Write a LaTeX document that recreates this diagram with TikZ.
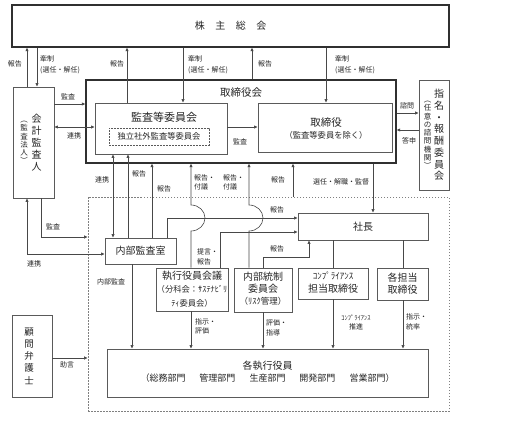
\documentclass[tikz,border=0pt]{standalone}
\usepackage{fontspec}
\setmainfont{Noto Sans CJK JP}
\usetikzlibrary{arrows.meta}
\definecolor{linec}{HTML}{484848}
\definecolor{boxc}{HTML}{5A5A5A}
\definecolor{darkc}{HTML}{303030}
\definecolor{textc}{HTML}{262626}
\definecolor{dashc}{HTML}{808080}
\begin{document}
\begin{tikzpicture}[x=1pt,y=-1pt,
  line/.style={draw=linec, line width=0.6pt},
  arr/.style={line, -{Latex[length=3.6pt,width=3.4pt]}},
  darr/.style={line, {Latex[length=3.6pt,width=3.4pt]}-{Latex[length=3.6pt,width=3.4pt]}},
  box/.style={draw=boxc, line width=0.7pt, inner sep=0pt, align=center, text=textc},
  bigbox/.style={draw=darkc, line width=1.2pt, inner sep=0pt, text=textc},
  txt/.style={inner sep=0pt, align=center, text=textc},
  lbl/.style={font=\fontsize{7}{9.5}\selectfont, text=textc, inner sep=0pt, align=left},
]
\useasboundingbox[fill=white] (0,0) rectangle (513,420);

% execution area
\node[draw=dashc, line width=0.6pt, dash pattern=on 1.5pt off 1.5pt, minimum width=361pt, minimum height=214pt, inner sep=0pt] (exec) at (268.5,304) {};

% shareholders meeting
\node[bigbox, minimum width=437pt, minimum height=42pt, font=\fontsize{10}{12}\selectfont] (sokai) at (230.5,26) {株\hspace{10.5pt}主\hspace{10.5pt}総\hspace{10.5pt}会};

% accounting auditor
\node[box, minimum width=41pt, minimum height=111pt] (kaikei) at (33.5,142.5)
 {\parbox[c]{8pt}{\centering\fontsize{7.5}{8.3}\selectfont ︵\\監\\査\\法\\人\\︶}\hspace{3pt}\parbox[c]{11pt}{\centering\fontsize{10}{12}\selectfont 会\\計\\監\\査\\人}\hspace{5pt}};

% board
\node[bigbox, minimum width=310pt, minimum height=83pt] (board) at (241,121.5) {};
\node[txt, font=\fontsize{10.5}{12}\selectfont] (boardT) at (241,93) {取締役会};

\node[box, minimum width=132pt, minimum height=51pt] (kansaiin) at (161,128.5) {};
\node[txt, font=\fontsize{11}{13}\selectfont] (kansaiinT) at (164,117) {監査等委員会};
\node[box, dash pattern=on 1.8pt off 1.2pt, minimum width=100pt, minimum height=17pt, font=\fontsize{8.3}{10}\selectfont] (dokuritsu) at (159,136.5) {独立社外監査等委員会};

\node[box, minimum width=134pt, minimum height=49pt] (torishimari) at (325,127.5) {};
\node[txt, font=\fontsize{8.3}{12}\selectfont] (torishimariT) at (326,128) {{\fontsize{10.5}{12}\selectfont 取締役}\\（監査等委員を除く）};

% nomination committee
\node[box, minimum width=30pt, minimum height=110pt] (shimei) at (434,135)
 {\parbox[c]{8pt}{\centering\fontsize{7.5}{8.25}\selectfont ︵\\任\\意\\の\\諮\\問\\機\\関\\︶}\hspace{2pt}\parbox[c]{11pt}{\centering\fontsize{10}{11.7}\selectfont 指\\名\\・\\報\\酬\\委\\員\\会}};

% lawyer
\node[box, minimum width=40pt, minimum height=82pt] (komon) at (32,356)
 {\parbox[c]{11pt}{\centering\fontsize{9.5}{12.25}\selectfont 顧\\問\\弁\\護\\士}\hspace{6pt}};

% execution side
\node[box, minimum width=71pt, minimum height=26pt, font=\fontsize{10}{12}\selectfont] (naibu) at (140.5,251) {内部監査室};
\node[box, minimum width=130pt, minimum height=27pt, font=\fontsize{10}{12}\selectfont] (shacho) at (363,226.5) {社長};
\node[box, minimum width=72pt, minimum height=43pt] (shikko) at (192,289.5) {};
\node[txt, font=\fontsize{8.3}{13.5}\selectfont] (shikkoT) at (192,289) {{\fontsize{10}{13.5}\selectfont 執行役員会議}\\（分科会：ｻｽﾃﾅﾋﾞﾘ\\ﾃｨ委員会）};
\node[box, minimum width=58pt, minimum height=44pt] (naibutosei) at (263,290) {};
\node[txt, font=\fontsize{8.5}{12}\selectfont] (naibutoseiT) at (263,289) {{\fontsize{10}{12}\selectfont 内部統制}\\{\fontsize{10}{12}\selectfont 委員会}\\（ﾘｽｸ管理）};
\node[box, minimum width=70pt, minimum height=31pt] (compliance) at (333,283.5) {};
\node[txt, font=\fontsize{9}{13}\selectfont] (complianceT) at (333,283) {ｺﾝﾌﾟﾗｲｱﾝｽ\\{\fontsize{10}{13}\selectfont 担当取締役}};
\node[box, minimum width=51pt, minimum height=32pt, font=\fontsize{10}{12}\selectfont] (kakutanto) at (402.5,284) {各担当\\取締役};
\node[box, minimum width=321pt, minimum height=48pt] (kakushikko) at (267.5,373) {};
\node[txt, font=\fontsize{9}{12}\selectfont] (kakushikkoT) at (267.5,372) {{\fontsize{10}{12}\selectfont 各執行役員}\\（総務部門\hspace{14pt}管理部門\hspace{14pt}生産部門\hspace{14pt}開発部門\hspace{14pt}営業部門）};

% ---------- connectors ----------
\draw[arr] (27,0 |- kaikei.north) -- (27,0 |- sokai.south);
\draw[arr] (37,0 |- sokai.south) -- (37,0 |- kaikei.north);
\draw[arr] (127,0 |- kansaiin.north) -- (127,0 |- sokai.south);
\draw[arr] (183,0 |- sokai.south) -- (183,0 |- kansaiin.north);
\draw[arr] (252,0 |- board.north) -- (252,0 |- sokai.south);
\draw[arr] (326,0 |- sokai.south) -- (326,0 |- torishimari.north);

\draw[arr] (kaikei.east |- 0,104) -- (board.west |- 0,104);
\draw[darr] (kaikei.east |- 0,127) -- (kansaiin.west |- 0,127);
\draw[arr] (kansaiin.east |- 0,127) -- (torishimari.west |- 0,127);
\draw[arr] (board.east |- 0,113) -- (shimei.west |- 0,113);
\draw[arr] (shimei.west |- 0,130) -- (board.east |- 0,130);

\draw[darr] (113,0 |- naibu.north) -- (113,0 |- kansaiin.south);
\draw[arr] (128,0 |- naibu.north) -- (128,0 |- kansaiin.south);
\draw[arr] (152,0 |- naibu.north) -- (152,0 |- board.south);
\draw[arr] (191,0 |- shikko.north) -- (191,231) arc[start angle=90,end angle=-90,x radius=14,y radius=13] -- (191,0 |- board.south);
\draw[arr] (249,0 |- naibutosei.north) -- (249,231) arc[start angle=90,end angle=-90,x radius=14,y radius=13] -- (249,0 |- board.south);

\draw[arr] (167,0 |- naibu.north) |- (shacho.west |- 0,218);
\draw[arr] (220,0 |- shikko.north) |- (shacho.west |- 0,232);
\draw[arr] (263,0 |- naibutosei.north) -- (263,257) -| (309,0 |- shacho.south);
\draw[arr] (293,0 |- exec.north) -- (293,0 |- board.south);
\draw[arr] (373,0 |- board.south) -- (373,0 |- shacho.north);
\draw[line] (333,0 |- shacho.south) -- (333,0 |- compliance.north);
\draw[line] (403,0 |- shacho.south) -- (403,0 |- kakutanto.north);

\draw[arr] (132,0 |- naibu.south) -- (132,0 |- kakushikko.north);
\draw[arr] (191,0 |- shikko.south) -- (191,0 |- kakushikko.north);
\draw[arr] (263,0 |- naibutosei.south) -- (263,0 |- kakushikko.north);
\draw[arr] (333,0 |- compliance.south) -- (333,0 |- kakushikko.north);
\draw[arr] (403,0 |- kakutanto.south) -- (403,0 |- kakushikko.north);

\draw[darr] (27,0 |- kaikei.south) |- (naibu.west |- 0,254);
\draw[arr] (41,0 |- kaikei.south) |- (exec.west |- 0,237);
\draw[arr] (komon.east |- 0,358) -- (exec.west |- 0,358);

% ---------- labels ----------
\node[lbl] (l1) at (15,64) {報告};
\node[lbl, anchor=west] (l2) at (40,64.5) {牽制\\[1.5pt](選任・解任)};
\node[lbl] (l3) at (117,64) {報告};
\node[lbl, anchor=west] (l4) at (188,64.5) {牽制\\[1.5pt](選任・解任)};
\node[lbl] (l5) at (265,64) {報告};
\node[lbl, anchor=west] (l6) at (335,64.5) {牽制\\[1.5pt](選任・解任)};
\node[lbl] (l7) at (68,97) {監査};
\node[lbl] (l8) at (74,136) {連携};
\node[lbl] (l9) at (240,142) {監査};
\node[lbl] (l10) at (407,106) {諮問};
\node[lbl] (l11) at (409,141) {答申};
\node[lbl] (l12) at (102,180) {連携};
\node[lbl] (l13) at (139,174) {報告};
\node[lbl] (l14) at (164,189) {報告};
\node[lbl, anchor=west] (l15) at (194,182.5) {報告・\\付議};
\node[lbl, anchor=west] (l16) at (223,182.5) {報告・\\付議};
\node[lbl] (l17) at (278,180) {報告};
\node[lbl] (l18) at (341,182) {選任・解職・監督};
\node[lbl] (l19) at (277,210) {報告};
\node[lbl, anchor=west] (l20) at (197,257) {提言・\\報告};
\node[lbl] (l21) at (277,249) {報告};
\node[lbl] (l22) at (53,227) {監査};
\node[lbl] (l23) at (34,264) {連携};
\node[lbl] (l24) at (111,282) {内部監査};
\node[lbl, anchor=west] (l25) at (195,326.5) {指示・\\評価};
\node[lbl, anchor=west] (l26) at (266,328) {評価・\\指導};
\node[lbl, align=center] (l27) at (356,322.5) {{\fontsize{6.5}{9.5}\selectfont ｺﾝﾌﾟﾗｲｱﾝｽ}\\推進};
\node[lbl, anchor=west] (l28) at (406,322) {指示・\\統率};
\node[lbl] (l29) at (67,365) {助言};
\end{tikzpicture}
\end{document}
